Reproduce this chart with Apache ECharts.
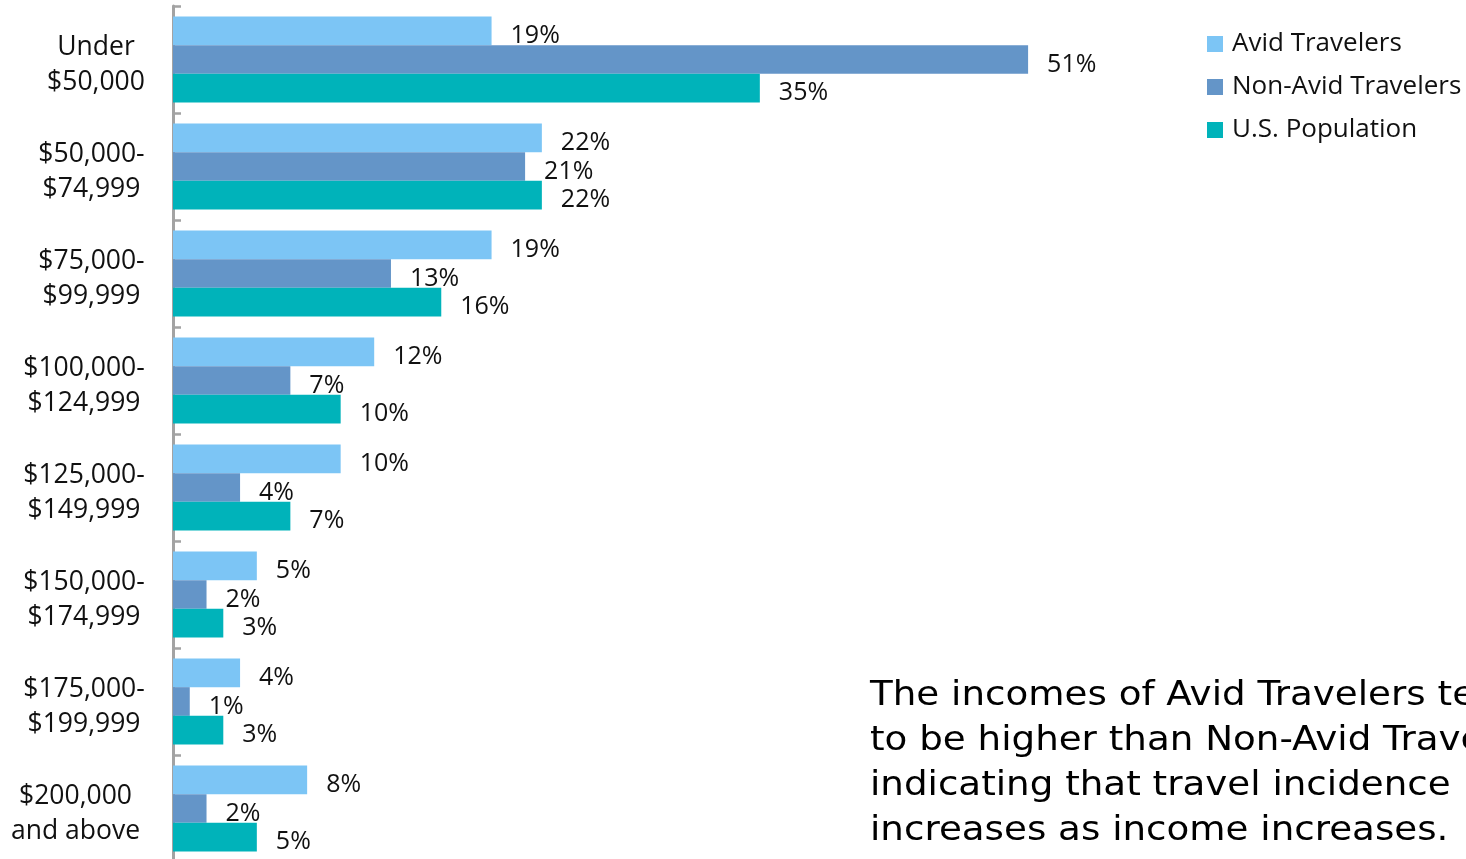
<!DOCTYPE html>
<html>
<head>
<meta charset="utf-8">
<script src="https://cdn.jsdelivr.net/npm/echarts@6/dist/echarts.min.js"></script>
<style>
  html, body { margin: 0; padding: 0; background: #ffffff; }
  #chart { width: 1466px; height: 859px; }
</style>
</head>
<body>
<div id="chart"></div>
<script>
// Income brackets, top to bottom
const categories = [
  'Under\n$50,000',
  '$50,000-\n$74,999',
  '$75,000-\n$99,999',
  '$100,000-\n$124,999',
  '$125,000-\n$149,999',
  '$150,000-\n$174,999',
  '$175,000-\n$199,999',
  '$200,000\nand above'
];

// Share of each group by income bracket (%)
const avidTravelers    = [19, 22, 19, 12, 10, 5, 4, 8];
const nonAvidTravelers = [51, 21, 13, 7, 4, 2, 1, 2];
const usPopulation     = [35, 22, 16, 10, 7, 3, 3, 5];

const seriesNames = ['Avid Travelers', 'Non-Avid Travelers', 'U.S. Population'];
const noteText = 'The incomes of Avid Travelers tend\nto be higher than Non-Avid Travelers,\nindicating that travel incidence\nincreases as income increases.';

const FONT = 'Open Sans';
const FS = 25;
const AXIS_FS = 26.5;

// Each bracket label is a centred two-line block; size each block to its widest line
// (the wrapped last label keeps a little of its unwrapped width)
const measureCtx = document.createElement('canvas').getContext('2d');
measureCtx.font = AXIS_FS + 'px "' + FONT + '"';
const rich = {};
categories.forEach((c, i) => {
  let w = Math.max(...c.split('\n').map(s => measureCtx.measureText(s).width));
  if (i === categories.length - 1) w += 9;
  rich['w' + i] = { width: Math.ceil(w), align: 'center', fontSize: AXIS_FS, fontFamily: FONT, color: '#111', lineHeight: 35 };
});

const colors = ['#7cc5f5', '#6495c8', '#00b3ba'];
const valueLabel = {
  show: true,
  position: 'right',
  distance: 19,
  formatter: '{c}%',
  fontSize: FS,
  fontFamily: FONT,
  color: '#111',
  offset: [0, 5]
};

function bar(name, data, color) {
  return {
    name: name,
    type: 'bar',
    data: data,
    barGap: '0%',
    barCategoryGap: '19.6%',
    itemStyle: { color: color },
    label: valueLabel
  };
}

const chart = echarts.init(document.getElementById('chart'), null, { renderer: 'canvas' });
chart.setOption({
  animation: false,
  backgroundColor: '#ffffff',
  color: colors,
  grid: { left: 173, top: 6, width: 1006, height: 856, containLabel: false, outerBoundsMode: 'none' },
  legend: {
    orient: 'vertical',
    left: 1207,
    top: 29,
    padding: 0,
    itemWidth: 16,
    itemHeight: 16,
    itemGap: 13,
    icon: 'rect',
    data: seriesNames,
    textStyle: { fontSize: 26, fontFamily: FONT, color: '#111', lineHeight: 30, padding: [0, 0, 0, 4] }
  },
  xAxis: {
    type: 'value',
    min: 0,
    max: 60,
    show: false
  },
  yAxis: {
    type: 'category',
    inverse: true,
    data: categories,
    axisLine: { show: true, lineStyle: { color: '#a3a3a3', width: 3 } },
    axisTick: { show: true, inside: true, length: 8, lineStyle: { color: '#a3a3a3', width: 2.5 } },
    axisLabel: {
      margin: 28,
      padding: [11, 0, 0, 0],
      formatter: (value, index) => value.split('\n').map(s => '{w' + index + '|' + s + '}').join('\n'),
      rich: rich
    }
  },
  series: [
    bar(seriesNames[0], avidTravelers, colors[0]),
    bar(seriesNames[1], nonAvidTravelers, colors[1]),
    bar(seriesNames[2], usPopulation, colors[2])
  ],
  graphic: [{
    type: 'text',
    x: 870,
    y: 674,
    scaleX: 1.128,
    style: {
      text: noteText,
      fontSize: 33,
      fontFamily: 'DejaVu Sans',
      fill: '#000',
      lineHeight: 45,
      verticalAlign: 'top'
    }
  }]
});
</script>
</body>
</html>
